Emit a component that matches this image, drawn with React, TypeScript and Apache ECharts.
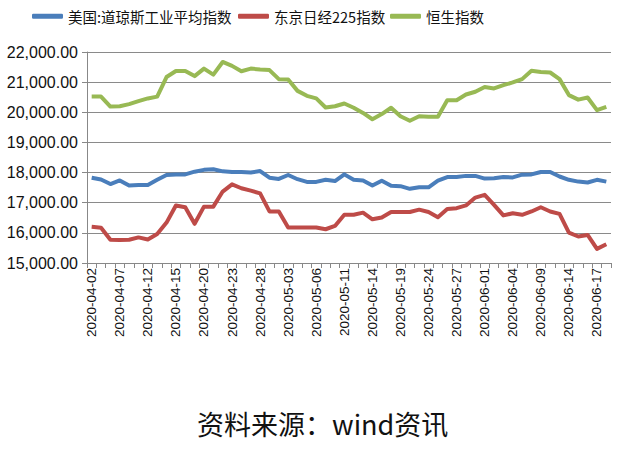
import React, { useEffect, useRef } from "react";
import * as echarts from "echarts";

const categories = [
  "2020-04-02", "2020-04-03", "2020-04-06", "2020-04-07", "2020-04-08", "2020-04-09",
  "2020-04-12", "2020-04-13", "2020-04-14", "2020-04-15", "2020-04-16", "2020-04-17",
  "2020-04-20", "2020-04-21", "2020-04-22", "2020-04-23", "2020-04-24", "2020-04-27",
  "2020-04-28", "2020-04-29", "2020-04-30", "2020-05-03", "2020-05-04", "2020-05-05",
  "2020-05-06", "2020-05-07", "2020-05-08", "2020-05-11", "2020-05-12", "2020-05-13",
  "2020-05-14", "2020-05-15", "2020-05-18", "2020-05-19", "2020-05-20", "2020-05-21",
  "2020-05-24", "2020-05-25", "2020-05-26", "2020-05-27", "2020-05-28", "2020-05-29",
  "2020-06-01", "2020-06-02", "2020-06-03", "2020-06-04", "2020-06-05", "2020-06-08",
  "2020-06-09", "2020-06-10", "2020-06-11", "2020-06-14", "2020-06-15", "2020-06-16",
  "2020-06-17", "2020-06-18",
];

const dowJones = [
  17830, 17770, 17620, 17740, 17570, 17590, 17590, 17760, 17920, 17940, 17940, 18030,
  18090, 18110, 18040, 18020, 18020, 18000, 18050, 17830, 17790, 17920, 17780, 17690,
  17690, 17760, 17720, 17940, 17760, 17740, 17570, 17730, 17560, 17550, 17460, 17510,
  17510, 17730, 17850, 17850, 17890, 17890, 17800, 17810, 17850, 17840, 17930, 17940,
  18020, 18020, 17870, 17760, 17700, 17670, 17760, 17700,
];

const nikkei = [
  16200, 16170, 15770, 15760, 15770, 15850, 15780, 15960, 16340, 16910, 16850, 16300,
  16870, 16870, 17370, 17610, 17480, 17400, 17310, 16710, 16710, 16180, 16180, 16180,
  16180, 16120, 16230, 16600, 16600, 16670, 16450, 16510, 16690, 16690, 16690, 16770,
  16690, 16520, 16790, 16820, 16910, 17170, 17260, 16930, 16580, 16650, 16600, 16710,
  16850, 16710, 16630, 16010, 15880, 15930, 15470, 15620,
];

const hangSeng = [
  20520, 20520, 20190, 20200, 20270, 20370, 20460, 20520, 21170, 21370, 21370, 21200,
  21450, 21250, 21670, 21540, 21360, 21450, 21420, 21400, 21100, 21090, 20710, 20545,
  20460, 20160, 20200, 20290, 20150, 19980, 19770, 19940, 20150, 19870, 19720, 19870,
  19850, 19850, 20400, 20400, 20590, 20680, 20840, 20790, 20900, 20990, 21100, 21380,
  21340, 21320, 21100, 20570, 20420, 20490, 20070, 20180,
];

const seriesNames = ["美国:道琼斯工业平均指数", "东京日经225指数", "恒生指数"];
const sourceText = "资料来源：wind资讯";

export default function App() {
  const ref = useRef<HTMLDivElement>(null);
  useEffect(() => {
    if (!ref.current) return;
    const chart = echarts.init(ref.current, null, { renderer: "svg" });
    const fmt = (v: number) =>
      v.toLocaleString("en-US", { minimumFractionDigits: 2, maximumFractionDigits: 2 });
    const mk = (name: string, data: number[], color: string) => ({
      name,
      type: "line",
      data,
      symbol: "none",
      color,
      lineStyle: { width: 4, color, join: "round" },
    });
    const legendBase = {
      top: 9,
      padding: 0,
      itemWidth: 31,
      itemHeight: 5,
      icon: "roundRect",
      textStyle: { fontSize: 14.5, color: "#111", fontFamily: "Noto Sans CJK SC" },
    };
    const legendLefts = [32, 238, 390];
    chart.setOption({
      animation: false,
      backgroundColor: "#ffffff",
      legend: seriesNames.map((n, i) => ({ ...legendBase, left: legendLefts[i], data: [n] })),
      grid: { left: 87, right: 14, top: 52, bottom: 197 },
      xAxis: {
        type: "category",
        data: categories,
        boundaryGap: true,
        axisLine: { lineStyle: { color: "#888", width: 1 } },
        axisTick: { show: true, interval: 0, length: 5, lineStyle: { color: "#888" } },
        axisLabel: {
          interval: 2,
          rotate: 90,
          fontSize: 13.5,
          color: "#111",
          margin: 5,
          fontFamily: "Liberation Sans",
        },
        splitLine: { show: false },
      },
      yAxis: {
        type: "value",
        min: 15000,
        max: 22000,
        interval: 1000,
        axisLine: { show: true, lineStyle: { color: "#888", width: 1 } },
        axisTick: { show: true, length: 5, lineStyle: { color: "#888" } },
        axisLabel: {
          formatter: (v: number) => fmt(v),
          fontSize: 16,
          color: "#111",
          margin: 9,
          fontFamily: "Liberation Sans",
        },
        splitLine: { show: true, lineStyle: { color: "#8a8a8a", width: 1 } },
      },
      series: [
        mk(seriesNames[0], dowJones, "#4a7ebb"),
        mk(seriesNames[1], nikkei, "#be4b48"),
        mk(seriesNames[2], hangSeng, "#98b954"),
      ],
      graphic: [
        {
          type: "text",
          left: 197,
          top: 410,
          style: {
            text: sourceText,
            fontSize: 27,
            fill: "#111",
            fontFamily: "Noto Sans CJK SC",
          },
        },
      ],
    });
    return () => chart.dispose();
  }, []);
  return (
    <div
      ref={ref}
      style={{ position: "fixed", left: 0, top: 0, width: 625, height: 460, background: "#fff" }}
    />
  );
}
